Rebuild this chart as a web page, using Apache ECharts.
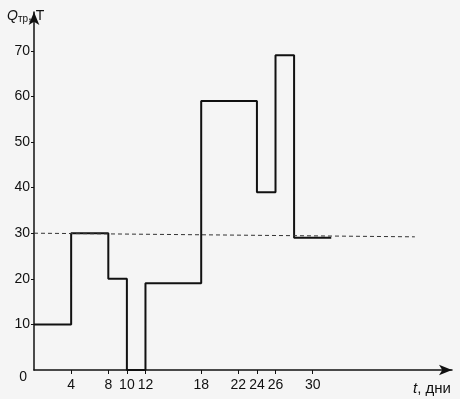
<!DOCTYPE html>
<html lang="ru">
<head>
    <meta charset="UTF-8">
    <title>Q тр</title>
    <script src="https://cdn.jsdelivr.net/npm/echarts@6/dist/echarts.min.js"></script>
    <style>
        html, body { margin: 0; padding: 0; background: #f5f5f5; }
        #chart { width: 460px; height: 399px; }
    </style>
</head>
<body>
    <div id="chart"></div>
    <script type="text/javascript">
        // ступенчатый график: начало интервала (дни) и значение Q (т)
        var stepDays = [0, 4, 8, 10, 12, 18, 24, 26, 28, 32];
        var stepValues = [10, 30, 20, 0, 19, 59, 39, 69, 29, 29];
        var xTicks = [4, 8, 10, 12, 18, 22, 24, 26, 30];
        var yTicks = [10, 20, 30, 40, 50, 60, 70];
        var yLabels = [0, 10, 20, 30, 40, 50, 60, 70];
        // пунктир уровня ~30 т
        var levelLine = [[0, 30], [41, 29.2]];

        var stepData = stepDays.map(function (d, i) { return [d, stepValues[i]]; });

        var txt = { fontFamily: 'Liberation Sans', fontWeight: 'normal', color: '#111' };
        function st(extra) { return Object.assign({}, txt, extra); }

        var chart = echarts.init(document.getElementById('chart'));
        var option = {
            backgroundColor: '#f5f5f5',
            animation: false,
            title: [{
                left: 2,
                top: 4,
                text: '{q|Q}{s|тр}{n|, Т}',
                textStyle: {
                    fontWeight: 'normal',
                    rich: {
                        q: st({ fontStyle: 'italic', fontSize: 14 }),
                        s: st({ fontSize: 10, padding: [5, 0, 0, 0] }),
                        n: st({ fontSize: 14 })
                    }
                }
            }, {
                left: 408,
                top: 376,
                text: '{t|t}{n|, дни}',
                textStyle: {
                    fontWeight: 'normal',
                    rich: {
                        t: st({ fontStyle: 'italic', fontSize: 15 }),
                        n: st({ fontSize: 15 })
                    }
                }
            }],
            grid: { left: 34, right: 8, top: 12, bottom: 29 },
            xAxis: {
                type: 'value',
                min: 0,
                max: 45,
                splitLine: { show: false },
                axisLine: {
                    lineStyle: { color: '#111', width: 1.5 },
                    symbol: ['none', 'arrow'],
                    symbolSize: [8, 13]
                },
                axisTick: { customValues: xTicks, length: 4, lineStyle: { color: '#111' } },
                axisLabel: st({
                    customValues: xTicks,
                    margin: 8,
                    fontSize: 14
                })
            },
            yAxis: {
                type: 'value',
                min: 0,
                max: 78.5,
                splitLine: { show: false },
                axisLine: {
                    lineStyle: { color: '#111', width: 1.5 },
                    symbol: ['none', 'arrow'],
                    symbolSize: [8, 13]
                },
                axisTick: { customValues: yTicks, length: 3, lineStyle: { color: '#111' } },
                axisLabel: st({
                    customValues: yLabels,
                    margin: 4,
                    fontSize: 14,
                    formatter: function (v) {
                        return v === 0 ? '{z|0}' : String(v);
                    },
                    rich: {
                        z: st({ fontSize: 14, padding: [14, 3, 0, 0] })
                    }
                })
            },
            series: [{
                type: 'line',
                step: 'end',
                data: stepData,
                symbol: 'none',
                lineStyle: { color: '#111', width: 2 },
                markLine: {
                    silent: true,
                    symbol: 'none',
                    label: { show: false },
                    lineStyle: { color: '#333', width: 1, type: [4, 3] },
                    data: [[{ coord: levelLine[0] }, { coord: levelLine[1] }]]
                }
            }]
        };
        chart.setOption(option);
    </script>
</body>
</html>
